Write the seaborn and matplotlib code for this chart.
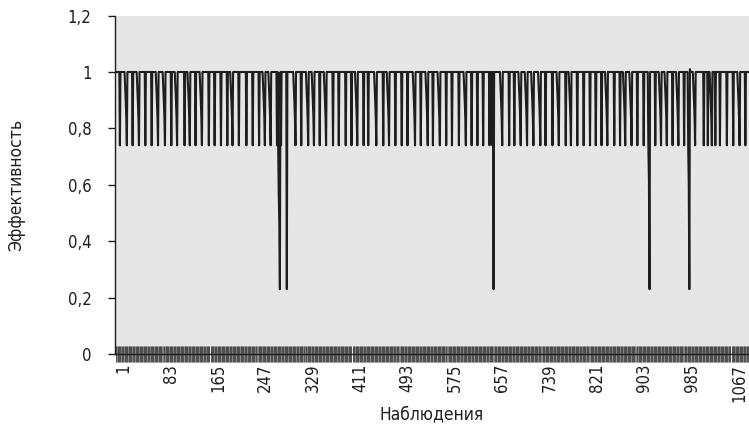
import numpy as np
import pandas as pd
import seaborn as sns
import matplotlib
matplotlib.use("Agg")
import matplotlib.pyplot as plt
from matplotlib import font_manager
from matplotlib.transforms import ScaledTranslation

# --- data ---
n_obs = 1098
base_level = 1.0
floor_level = 0.74

# observations where the efficiency drops to the floor (~0.74)
spike_obs = [9, 21, 31, 42, 53, 64, 75, 87, 98, 108, 121, 130, 140, 151, 163, 173, 184, 195, 204, 215,
             228, 239, 250, 260, 270, 281, 283, 288, 313, 323, 335, 345, 355, 366, 378, 388, 400, 410, 420, 431,
             439, 453, 465, 475, 486, 497, 507, 520, 530, 542, 551, 563, 574, 584, 596, 608, 618, 628, 638, 649,
             654, 671, 683, 692, 703, 714, 725, 737, 746, 758, 769, 781, 790, 801, 812, 823, 833, 843, 853, 865,
             875, 884, 895, 905, 916, 924, 936, 946, 956, 966, 976, 986, 993, 1005, 1020, 1027, 1034, 1040, 1048,
             1060, 1071, 1082, 1092]

# spikes that are approached by a slow slide (wedges)
wedge_obs = [21, 42, 75, 87, 108, 130, 151, 204, 260, 270, 313, 335, 345, 366, 420, 453, 475, 520, 542,
             563, 608, 671, 703, 714, 725, 737, 769, 790, 853, 884, 895, 946, 956, 976, 1005, 1034, 1082]
wedge_vals = [0.95, 0.9, 0.84]  # values of the 3 points before the floor

# deep drops and other single readings
dip_obs = [284, 285, 286, 298, 656, 925, 926, 994, 995, 996]
dip_vals = [0.57, 0.46, 0.23, 0.23, 0.23, 0.62, 0.23, 0.6, 0.23, 1.01]

xtick_vals = [1, 83, 165, 247, 329, 411, 493, 575, 657, 739, 821, 903, 985, 1067]
ytick_vals = [0, 0.2, 0.4, 0.6, 0.8, 1.0, 1.2]
ytick_labels = ["0", "0,2", "0,4", "0,6", "0,8", "1", "1,2"]

# build the series
obs = np.arange(1, n_obs + 1)
eff = np.full(n_obs, base_level)
for s in wedge_obs:
    for k, v in enumerate(wedge_vals):
        eff[s - 3 + k - 1] = v
for s in spike_obs:
    eff[s - 1] = floor_level
for o, v in zip(dip_obs, dip_vals):
    eff[o - 1] = v

df = pd.DataFrame({"obs": obs, "eff": eff})

# --- plot ---
sns.set_theme(style="ticks")
# the original uses a condensed face, take a narrow one if we have it
installed = {f.name for f in font_manager.fontManager.ttflist}
if "Liberation Sans Narrow" in installed:
    plt.rcParams["font.family"] = ["Liberation Sans Narrow", "DejaVu Sans"]
    fs, fs_lab = 11.5, 12
else:
    plt.rcParams["font.family"] = ["DejaVu Sans"]
    plt.rcParams["font.stretch"] = "condensed"
    fs, fs_lab = 12, 12.5
ink = "#1e1e1e"

fig = plt.figure(figsize=(7.49, 4.29), dpi=100)
ax = fig.add_axes([115 / 749, 1 - 354 / 429, 634 / 749, 338.4 / 429])
ax.set_facecolor("#e6e6e6")

sns.lineplot(data=df, x="obs", y="eff", ax=ax, color=ink, linewidth=1.5)

ax.set_xlim(0.5, n_obs + 0.3)
ax.set_ylim(0, 1.2)

for side in ["top", "right"]:
    ax.spines[side].set_visible(False)
for side in ["left", "bottom"]:
    ax.spines[side].set_color(ink)
    ax.spines[side].set_linewidth(1.0)

ax.set_yticks(ytick_vals)
ax.set_yticklabels(ytick_labels, fontsize=fs, color=ink)
ax.tick_params(axis="y", direction="out", length=5, width=1.0, color=ink, pad=12)

ax.set_xticks(xtick_vals)
ax.set_xticklabels([str(v) for v in xtick_vals], rotation=90, fontsize=fs, color=ink)
ax.set_xticks(obs, minor=True)
ax.tick_params(axis="x", which="major", length=0, pad=7)
ax.tick_params(axis="x", which="minor", direction="inout", length=11.5, width=0.4, color="#2a2a2a")
for t in ax.xaxis.get_minor_ticks():
    t.tick1line.set_snap(False)

ax.set_xlabel("Наблюдения", fontsize=fs_lab, color=ink, labelpad=3)
ax.set_ylabel("Эффективность", fontsize=fs_lab, color=ink)
ax.yaxis.set_label_coords(-0.142, 0.5)

# labels sit a little right of the category position
shift = ScaledTranslation(8 / 100, 0, fig.dpi_scale_trans)
for lab in ax.get_xticklabels():
    lab.set_transform(lab.get_transform() + shift)

fig.savefig("out.png", dpi=100)
